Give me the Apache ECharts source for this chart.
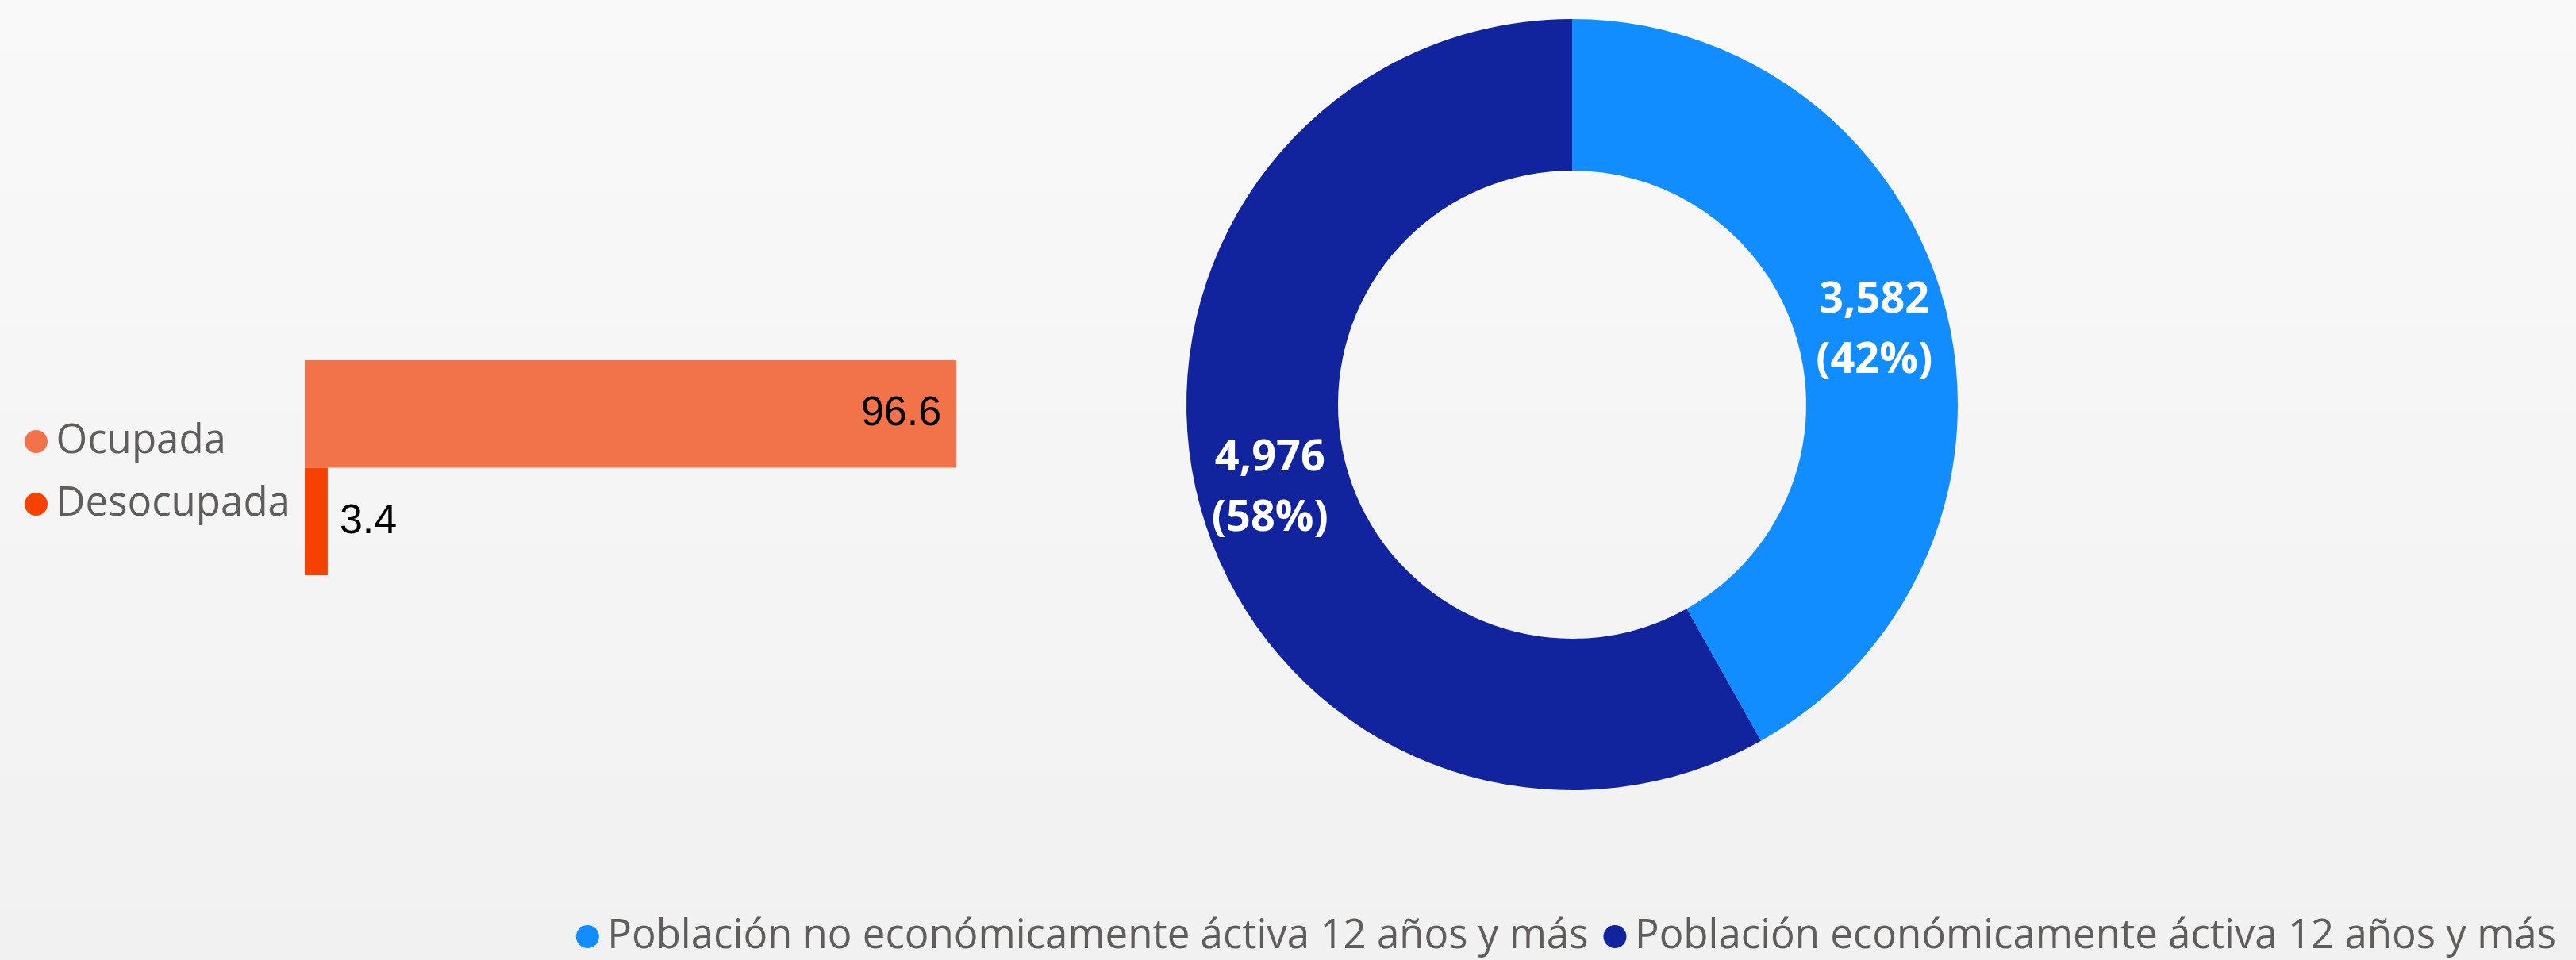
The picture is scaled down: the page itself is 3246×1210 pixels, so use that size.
<!DOCTYPE html>
<html>
<head>
<meta charset="utf-8">
<script src="https://cdn.jsdelivr.net/npm/echarts@6/dist/echarts.min.js"></script>
<style>
  html, body { margin: 0; padding: 0; background: #f5f5f5; }
  #main { width: 3246px; height: 1210px; }
</style>
</head>
<body>
<div id="main"></div>
<script>
  // condición de actividad (%)
  var barNames = ['Ocupada', 'Desocupada'];
  var barValues = [96.6, 3.4];
  var barColors = ['#F2734A', '#F54200'];

  // población 12 años y más
  var pieNames = ['Población no económicamente áctiva 12 años y más', 'Población económicamente áctiva 12 años y más'];
  var pieValues = [3582, 4976];
  var pieColors = ['#118DFF', '#12239E'];

  var font = 'Open Sans';
  var grey = '#605E5C';

  var chartDom = document.getElementById('main');
  var myChart = echarts.init(chartDom);

  var total = pieValues[0] + pieValues[1];

  var option = {
    backgroundColor: {
      type: 'linear', x: 0, y: 0, x2: 0, y2: 1,
      colorStops: [{ offset: 0, color: '#f9f9f9' }, { offset: 1, color: '#f1f1f1' }]
    },
    animation: false,
    legend: [
      {
        data: barNames,
        orient: 'vertical',
        left: 26,
        top: 526,
        icon: 'circle',
        itemWidth: 40,
        itemHeight: 29,
        itemGap: 28,
        textStyle: { fontFamily: font, fontSize: 51, color: grey, lineHeight: 50 }
      },
      {
        data: pieNames,
        orient: 'horizontal',
        right: 20,
        top: 1150,
        icon: 'circle',
        itemWidth: 40,
        itemHeight: 29,
        itemGap: 19,
        textStyle: { fontFamily: font, fontSize: 51, color: grey, lineHeight: 50 }
      }
    ],
    grid: { left: 384, top: 454, width: 850, height: 271 },
    xAxis: { type: 'value', min: 0, max: 100, show: false },
    yAxis: { type: 'category', data: barNames, inverse: true, show: false },
    series: [
      {
        name: barNames[0],
        type: 'bar',
        stack: 'act',
        barCategoryGap: 0,
        itemStyle: { color: barColors[0] },
        label: {
          show: true, position: 'insideRight', distance: 19,
          fontFamily: 'Liberation Sans', fontSize: 52, color: '#000'
        },
        data: [barValues[0], '-']
      },
      {
        name: barNames[1],
        type: 'bar',
        stack: 'act',
        barCategoryGap: 0,
        itemStyle: { color: barColors[1] },
        label: {
          show: true, position: 'right', distance: 15,
          fontFamily: 'Liberation Sans', fontSize: 52, color: '#000'
        },
        data: ['-', barValues[1]]
      },
      {
        type: 'pie',
        center: [1981, 510],
        radius: [295, 486],
        startAngle: 90,
        clockwise: true,
        avoidLabelOverlap: false,
        emphasis: { disabled: true },
        label: {
          show: true,
          position: 'inside',
          color: '#fff',
          fontFamily: font,
          fontWeight: 'bold',
          fontSize: 54,
          lineHeight: 76,
          offset: [0, 6],
          formatter: function (p) {
            return p.value.toLocaleString('en-US') + '\n(' + Math.round(p.value / total * 100) + '%)';
          }
        },
        data: pieNames.map(function (n, i) {
          return { name: n, value: pieValues[i], itemStyle: { color: pieColors[i] } };
        })
      }
    ]
  };

  option && myChart.setOption(option);
</script>
</body>
</html>
